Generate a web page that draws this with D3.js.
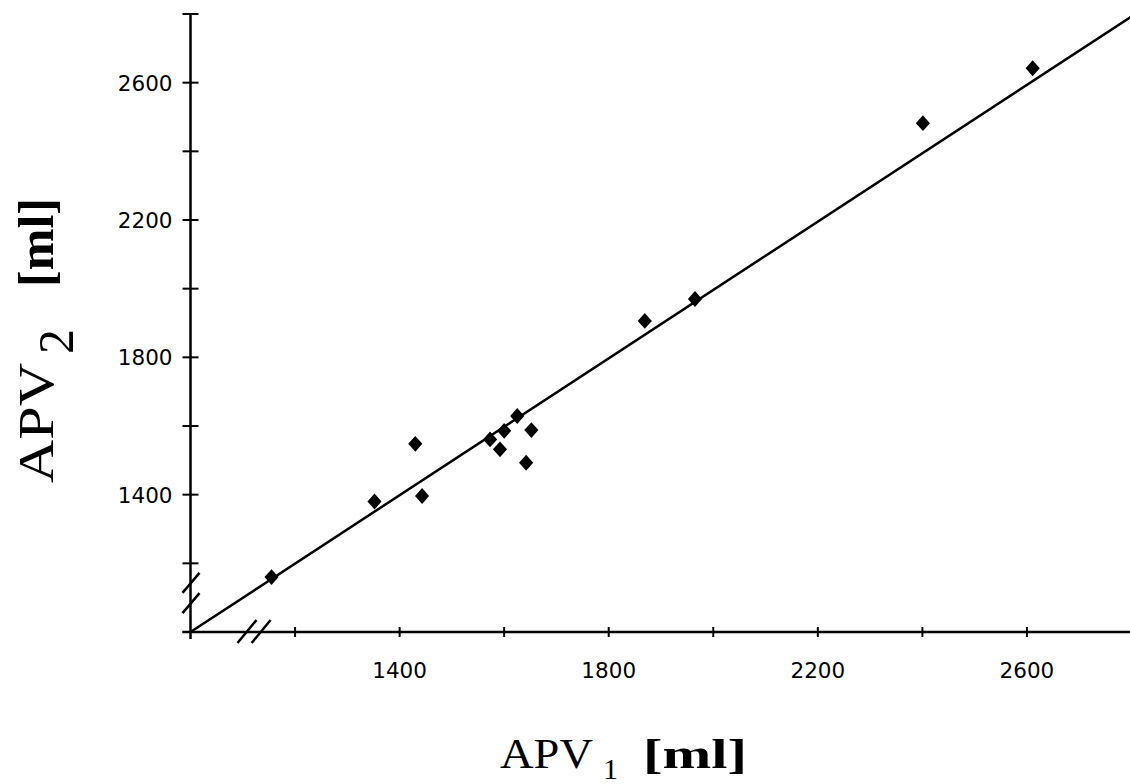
<!DOCTYPE html>
<html>
<head>
<meta charset="utf-8">
<script src="https://cdnjs.cloudflare.com/ajax/libs/d3/7.8.5/d3.min.js"></script>
<style>
  html, body { margin: 0; padding: 0; background: #fff; }
  svg { display: block; }
</style>
</head>
<body>
<div id="chart"></div>
<script>
// ---- data ----
const apv1 = [1155, 1352, 1430, 1443, 1573, 1600, 1592, 1625, 1652, 1642, 1869, 1965, 2401, 2611];
const apv2 = [1160, 1380, 1548, 1396, 1561, 1586, 1532, 1629, 1588, 1493, 1906, 1970, 2482, 2642];
const fitX = [1000, 2800];
const fitY = [1000, 2793];
const xTicks = [1200, 1400, 1600, 1800, 2000, 2200, 2400, 2600, 2800];
const xTickLabels = [1400, 1800, 2200, 2600];
const yTicks = [1000, 1200, 1400, 1600, 1800, 2000, 2200, 2400, 2600, 2800];
const yTickLabels = [1400, 1800, 2200, 2600];
const xBreak = [1109, 1136];
const yBreak = [1143, 1084];

const W = 1130, H = 784;
const svg = d3.select("#chart").append("svg").attr("width", W).attr("height", H);

const x = d3.scaleLinear().domain([1000, 2800]).range([190.5, 1131.5]);
const y = d3.scaleLinear().domain([1000, 2800]).range([632, 14]);

const ink = "#000";
const g = svg.append("g");

// y axis line
g.append("line").attr("x1", x(1000)).attr("x2", x(1000))
  .attr("y1", y(2800)).attr("y2", y(1000) + 7)
  .attr("stroke", ink).attr("stroke-width", 2.5);
// x axis line
g.append("line").attr("x1", x(1000) - 8).attr("x2", W)
  .attr("y1", y(1000)).attr("y2", y(1000))
  .attr("stroke", ink).attr("stroke-width", 2.5);

// y ticks (cross ticks)
g.selectAll(".yt").data(yTicks).join("line")
  .attr("x1", x(1000) - 8).attr("x2", x(1000) + 8)
  .attr("y1", d => y(d)).attr("y2", d => y(d))
  .attr("stroke", ink).attr("stroke-width", 2);
// x ticks
g.selectAll(".xt").data(xTicks).join("line")
  .attr("x1", d => x(d)).attr("x2", d => x(d))
  .attr("y1", y(1000) - 5).attr("y2", y(1000) + 5)
  .attr("stroke", ink).attr("stroke-width", 2);

// tick labels
g.selectAll(".yl").data(yTickLabels).join("text")
  .attr("x", x(1000) - 18).attr("y", d => y(d) + 8)
  .attr("text-anchor", "end")
  .attr("font-family", "DejaVu Sans, sans-serif").attr("font-size", 21.5)
  .attr("fill", ink).text(d => d);
g.selectAll(".xl").data(xTickLabels).join("text")
  .attr("x", d => x(d)).attr("y", 678)
  .attr("text-anchor", "middle")
  .attr("font-family", "DejaVu Sans, sans-serif").attr("font-size", 21.5)
  .attr("fill", ink).text(d => d);

// axis breaks
g.selectAll(".xb").data(xBreak).join("line")
  .attr("x1", d => x(d) - 10).attr("x2", d => x(d) + 9)
  .attr("y1", y(1000) + 11).attr("y2", y(1000) - 12)
  .attr("stroke", ink).attr("stroke-width", 2.5);
g.selectAll(".yb").data(yBreak).join("line")
  .attr("x1", x(1000) - 8).attr("x2", x(1000) + 9)
  .attr("y1", d => y(d) + 10).attr("y2", d => y(d) - 10)
  .attr("stroke", ink).attr("stroke-width", 2.5);

// regression line
const line = d3.line().x(d => x(d[0])).y(d => y(d[1]));
g.append("path").datum(d3.zip(fitX, fitY)).attr("d", line)
  .attr("fill", "none").attr("stroke", ink).attr("stroke-width", 2.5);

// points
const sym = d3.symbol().type(d3.symbolSquare).size(100);
g.selectAll(".pt").data(d3.zip(apv1, apv2)).join("path")
  .attr("d", sym)
  .attr("transform", d => `translate(${x(d[0])},${y(d[1])}) scale(1,1.12) rotate(45)`)
  .attr("fill", ink);

// x title
const xt = svg.append("g").attr("font-family", "Liberation Serif, Times New Roman, serif").attr("fill", ink);
xt.append("text").attr("x", 500).attr("y", 768).attr("font-size", 42)
  .attr("textLength", 93).attr("lengthAdjust", "spacingAndGlyphs").text("APV");
xt.append("text").attr("x", 603).attr("y", 779).attr("font-size", 30).text("1");
xt.append("text").attr("x", 643).attr("y", 768).attr("font-size", 42).attr("font-weight", "bold")
  .attr("textLength", 104).attr("lengthAdjust", "spacingAndGlyphs").text("[ml]");

// y title (rotated)
const yt = svg.append("g").attr("font-family", "Liberation Serif, Times New Roman, serif").attr("fill", ink)
  .attr("transform", "rotate(-90)");
yt.append("text").attr("x", -483).attr("y", 53).attr("font-size", 50)
  .attr("textLength", 120).attr("lengthAdjust", "spacingAndGlyphs").text("APV");
yt.append("text").attr("x", -354).attr("y", 73).attr("font-size", 50).text("2");
yt.append("text").attr("x", -287).attr("y", 53).attr("font-size", 50).attr("font-weight", "bold")
  .attr("textLength", 89).attr("lengthAdjust", "spacingAndGlyphs").text("[ml]");
</script>
</body>
</html>
